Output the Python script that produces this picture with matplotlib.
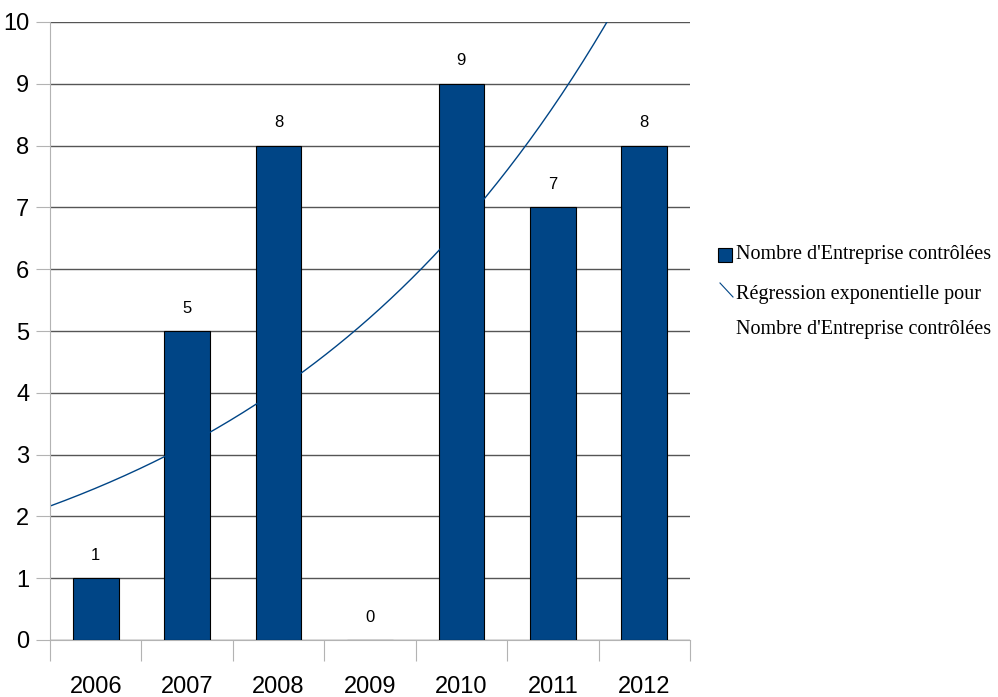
import numpy as np
import matplotlib
matplotlib.use("Agg")
import matplotlib.pyplot as plt
from matplotlib.lines import Line2D
from matplotlib.patches import Rectangle

# Données : nombre d'entreprises contrôlées par année
annees = ["2006", "2007", "2008", "2009", "2010", "2011", "2012"]
nb_controles = [1, 5, 8, 0, 9, 7, 8]

BLEU = "#004586"
GRILLE = "#555555"
AXE = "#b3b3b3"
police_axes = ["Liberation Sans Narrow", "Liberation Sans", "DejaVu Sans"]
police_legende = ["Liberation Serif", "DejaVu Serif"]

fig = plt.figure(figsize=(9.98, 6.97), dpi=100)
ax = fig.add_axes([50 / 998, 57 / 697, 640 / 998, 618 / 697])

x = np.arange(len(annees))
y = np.array(nb_controles, dtype=float)

# Barres
ax.bar(x, y, width=0.5, color=BLEU, edgecolor="black", linewidth=0.8, zorder=3)
for xi, v in zip(x, nb_controles):
    ax.text(xi, v + 0.25, str(v), ha="center", va="bottom",
            fontsize=12, family=police_axes, zorder=4)

# Régression exponentielle (les valeurs nulles sont ignorées pour le log)
pos = y > 0
b, a = np.polyfit(x[pos] + 1, np.log(y[pos]), 1)
xs = np.linspace(-0.5, 6.5, 300)
ax.plot(xs, np.exp(a + b * (xs + 1)), color=BLEU, linewidth=1.0, zorder=4)

ax.set_xlim(-0.5, 6.5)
ax.set_ylim(0, 10)

# Grille horizontale et graduations
ax.set_yticks(range(0, 11))
ax.yaxis.grid(True, color=GRILLE, linewidth=1.0, zorder=0)
ax.set_axisbelow(True)
ax.tick_params(axis="y", length=10, color=AXE, labelsize=17, pad=5)
for lab in ax.get_yticklabels():
    lab.set_family(police_axes)

ax.set_xticks(np.arange(-0.5, 7.0, 1.0))
ax.set_xticklabels([])
ax.set_xticks(x, minor=True)
ax.set_xticklabels(annees, minor=True)
ax.tick_params(axis="x", which="major", length=15, color=AXE)
ax.tick_params(axis="x", which="minor", length=0, labelsize=17, pad=26)
for lab in ax.get_xticklabels(minor=True):
    lab.set_family(police_axes)

for cote in ["top", "right"]:
    ax.spines[cote].set_visible(False)
ax.spines["left"].set_color(AXE)
ax.spines["bottom"].set_color(AXE)
ax.spines["left"].set_zorder(5)

# Légende
fig.add_artist(Rectangle((718 / 998, 1 - 262 / 697), 14 / 998, 14 / 697,
                         transform=fig.transFigure, facecolor=BLEU,
                         edgecolor="black", linewidth=0.8))
fig.add_artist(Line2D([720 / 998, 733 / 998], [1 - 283 / 697, 1 - 297 / 697],
                      transform=fig.transFigure, color=BLEU, linewidth=0.8))
fig.text(736 / 998, 1 - 255 / 697, "Nombre d'Entreprise contrôlées",
         va="center", ha="left", fontsize=14.5, family=police_legende)
fig.text(736 / 998, 1 - 294 / 697, "Régression exponentielle pour",
         va="center", ha="left", fontsize=14.5, family=police_legende)
fig.text(736 / 998, 1 - 330 / 697, "Nombre d'Entreprise contrôlées",
         va="center", ha="left", fontsize=14.5, family=police_legende)

fig.savefig("out.png", dpi=100)
